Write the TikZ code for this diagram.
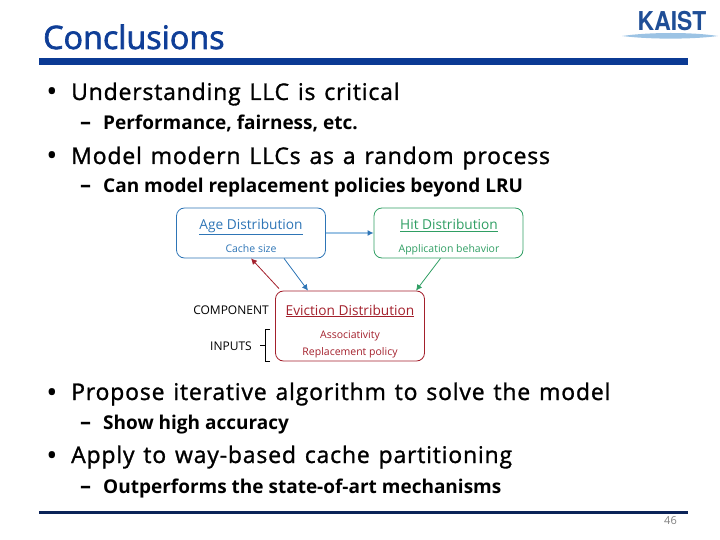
\documentclass[tikz,border=0pt]{standalone}
\usepackage{fontspec}
\usetikzlibrary{arrows.meta}
\setmainfont{Open Sans}
\newfontfamily\kaistfont{TeX Gyre Heros}
\newfontfamily\spacedfont[LetterSpace=3.5,WordSpace=1.3,FakeBold=1.2]{Open Sans}
\newfontfamily\titlefont[FakeBold=2]{Open Sans}
\definecolor{titleblue}{HTML}{0F3E97}
\definecolor{ruleblue}{HTML}{0B3A94}
\definecolor{footnavy}{HTML}{0B2358}
\definecolor{ageblue}{HTML}{2E75B6}
\definecolor{hitgreen}{HTML}{2F9E63}
\definecolor{evicred}{HTML}{A3202C}
\definecolor{logoblue}{HTML}{1F4E96}
\definecolor{lensblue}{HTML}{9CC3E4}
\tikzset{
  mainitem/.style={anchor=base west,inner sep=0pt,font=\spacedfont\fontsize{23}{23}\selectfont},
  subitem/.style={anchor=base west,inner sep=0pt,font=\fontsize{19}{19}\selectfont\bfseries},
  distbox/.style={draw=#1,line width=0.8pt,rounded corners=8pt,minimum width=149pt,inner sep=0pt,text=#1},
  distname/.style={anchor=base,inner sep=0pt,font=\fontsize{13.7}{14}\selectfont},
  distinput/.style={anchor=base,inner sep=0pt,font=\fontsize{10.5}{10.5}\selectfont},
  sidelabel/.style={inner sep=0pt,font=\fontsize{12}{12}\selectfont},
  linkarrow/.style={-{Latex[length=6pt,width=6pt]},line width=0.8pt}
}
\begin{document}
\begin{tikzpicture}[x=1pt,y=-1pt]
  \useasboundingbox (0,0) rectangle (720,540);

  % Title and rules
  \node[anchor=base west,inner sep=0pt,text=titleblue,font=\titlefont\fontsize{32.3}{32}\selectfont] (title) at (43,49) {Conclusions};
  \fill[ruleblue] (39,58) rectangle (688,65);
  \fill[footnavy] (39,510.5) rectangle (688,513.5);
  \node[inner sep=0pt,text=gray,font=\fontsize{11}{11}\selectfont] (pagenum) at (670.5,521) {46};

  % Logo
  \node[anchor=base,inner sep=0pt,text=logoblue,xscale=0.88,transform shape,font=\kaistfont\fontsize{26}{26}\selectfont\bfseries] (logo) at (672,31) {KAIST};
  \fill[lensblue] (622,36) .. controls (650,32) and (692,32) .. (718,36) .. controls (692,39.5) and (650,39.5) .. (622,36) -- cycle;

  % Bullets
  \foreach \name/\y/\txt in {one/100/Understanding LLC is critical,
      two/164/Model modern LLCs as a random process,
      three/400/Propose iterative algorithm to solve the model,
      four/463/Apply to way-based cache partitioning}
    \node[mainitem] (\name) at (71,\y) {\txt};
  \foreach \name/\y in {one/100,two/164,three/400,four/463}
    \node[anchor=base,inner sep=0pt,font=\fontsize{23}{23}\selectfont\bfseries] (dot\name) at (52,\y) {•};

  % Sub items
  \foreach \name/\y/\txt in {perf/130/{Performance, fairness, etc.},
      repl/193/Can model replacement policies beyond LRU,
      accu/429/Show high accuracy,
      outp/493/Outperforms the state-of-art mechanisms}
    \node[subitem] (\name) at (103,\y) {\txt};
  \foreach \name/\y in {perf/130,repl/193,accu/429,outp/493}
    \node[anchor=base,inner sep=0pt,font=\fontsize{22}{22}\selectfont\bfseries] (dash\name) at (85.5,\y) {–};

  % Boxes
  \node[distbox=ageblue,minimum height=50pt] (age) at (251,233) {};
  \node[distbox=hitgreen,minimum height=50pt] (hit) at (448.5,233) {};
  \node[distbox=evicred,minimum height=70pt] (evic) at (350,326) {};

  % Box texts
  \node[distname,text=ageblue] (agename) at (251,229.5) {\underline{Age Distribution}};
  \node[distinput,text=ageblue] (agesize) at (251,252.5) {Cache size};
  \node[distname,text=hitgreen] (hitname) at (449,229.5) {\underline{Hit Distribution}};
  \node[distinput,text=hitgreen] (hitapp) at (449,252.5) {Application behavior};
  \node[distname,text=evicred] (evicname) at (350,315) {\underline{Eviction Distribution}};
  \node[distinput,text=evicred] (evicassoc) at (350,338.5) {Associativity};
  \node[distinput,text=evicred] (evicrepl) at (350,355.5) {Replacement policy};

  % Connectors
  \draw[linkarrow,draw=lensblue,line width=1.2pt,-{Latex[length=6pt,width=6pt,ageblue]}] (age.east) -- (hit.west);
  \draw[linkarrow,ageblue] ([xshift=33pt]age.south) -- ([xshift=-42pt]evic.north);
  \draw[linkarrow,evicred] ([xshift=-71pt,yshift=2pt]evic.north) -- (age.south);
  \draw[linkarrow,hitgreen] ([xshift=-8pt]hit.south) -- ([xshift=66pt]evic.north);

  % Labels
  \node[sidelabel] (component) at (231,310) {COMPONENT};
  \node[sidelabel] (inputs) at (231,346) {INPUTS};
  \coordinate (brace) at (265,345);
  \draw[thin] ([xshift=5pt,yshift=-16pt]brace) -- ([yshift=-16pt]brace) -- ([yshift=16pt]brace) -- ([xshift=5pt,yshift=16pt]brace);
  \draw[thin] (brace) -- ([xshift=-5pt]brace);

\end{tikzpicture}
\end{document}
